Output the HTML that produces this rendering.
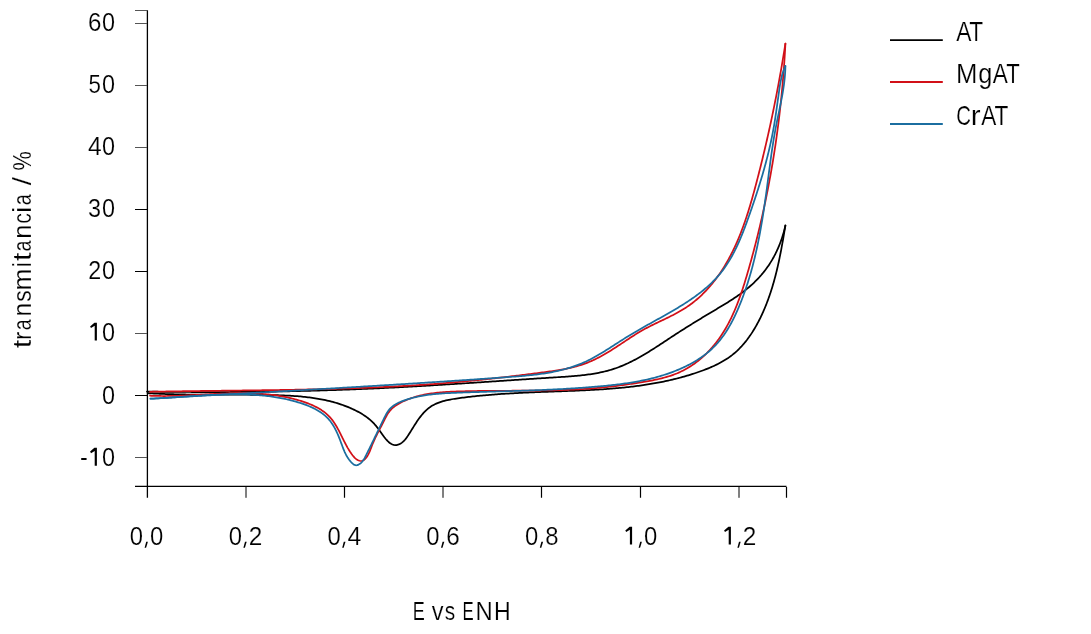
<!DOCTYPE html>
<html><head><meta charset="utf-8"><style>
html,body{margin:0;padding:0;background:#fff;}
body{width:1091px;height:634px;overflow:hidden;position:relative;}
svg{position:absolute;left:0;top:0;will-change:transform;}
text{font-family:"Liberation Sans",sans-serif;font-size:26px;fill:#000;stroke:#fff;stroke-width:0.18px;}
</style></head><body>
<svg width="1091" height="634" viewBox="0 0 1091 634">
<g fill="none" stroke-linejoin="round" stroke-linecap="round">
<path d="M147.4,10.2V497.8 M135,486.4H786.5" stroke="#000" stroke-width="1.3" stroke-linecap="butt"/>
<path d="M135,209.5H147 M135,271.5H147 M135,395.5H147 M344.5,487V497.8 M541.5,487V497.8 M640.5,487V497.8 M786.5,487V497.8" stroke="#000" stroke-width="1.2" stroke-linecap="butt"/>
<path d="M135,10.5H147 M135,23.5H147 M135,85.5H147 M135,147.5H147 M135,333.5H147 M135,457.5H147" stroke="#555" stroke-width="1.1" stroke-linecap="butt"/>
<path d="M246.0,487V497.8 M443.0,487V497.8 M739.0,487V497.8" stroke="#000" stroke-width="1" stroke-linecap="butt"/>
</g>
<g fill="none" stroke-width="1.75" stroke-linejoin="round" stroke-linecap="round">
<path d="M147.00,391.60 L148.49,391.62 L149.99,391.64 L151.48,391.66 L152.98,391.68 L154.47,391.70 L155.97,391.71 L157.46,391.73 L158.96,391.75 L160.46,391.77 L161.95,391.78 L163.45,391.80 L164.94,391.81 L166.44,391.83 L167.93,391.84 L169.43,391.86 L170.93,391.87 L172.42,391.88 L173.92,391.90 L175.42,391.91 L176.91,391.92 L178.41,391.93 L179.91,391.94 L181.40,391.95 L182.90,391.96 L184.40,391.97 L185.89,391.98 L187.39,391.99 L188.89,391.99 L190.38,392.00 L191.88,392.01 L193.38,392.01 L194.88,392.02 L196.37,392.02 L197.87,392.03 L199.37,392.03 L200.87,392.04 L202.36,392.04 L203.86,392.04 L205.36,392.04 L206.86,392.04 L208.36,392.04 L209.85,392.05 L211.35,392.04 L212.85,392.04 L214.35,392.04 L215.85,392.04 L217.35,392.04 L218.84,392.04 L220.34,392.03 L221.84,392.03 L223.34,392.02 L224.84,392.02 L226.34,392.01 L227.83,392.01 L229.33,392.00 L230.83,391.99 L232.33,391.98 L233.83,391.98 L235.33,391.97 L236.83,391.96 L238.33,391.95 L239.82,391.94 L241.32,391.93 L242.82,391.91 L244.32,391.90 L245.82,391.89 L247.32,391.87 L248.82,391.86 L250.32,391.85 L251.81,391.83 L253.31,391.81 L254.81,391.80 L256.31,391.78 L257.81,391.76 L259.31,391.75 L260.81,391.73 L262.31,391.71 L263.81,391.69 L265.30,391.67 L266.80,391.65 L268.30,391.62 L269.80,391.60 L271.30,391.58 L272.80,391.56 L274.30,391.53 L275.80,391.51 L277.30,391.48 L278.79,391.46 L280.29,391.43 L281.79,391.40 L283.29,391.38 L284.79,391.35 L286.29,391.32 L287.79,391.29 L289.28,391.26 L290.78,391.23 L292.28,391.20 L293.78,391.16 L295.28,391.13 L296.78,391.10 L298.27,391.06 L299.77,391.03 L301.27,391.00 L302.77,390.96 L304.27,390.92 L305.77,390.89 L307.26,390.85 L308.76,390.81 L310.26,390.77 L311.76,390.73 L313.25,390.69 L314.75,390.65 L316.25,390.61 L317.75,390.57 L319.25,390.52 L320.74,390.48 L322.24,390.44 L323.74,390.39 L325.23,390.35 L326.73,390.30 L328.23,390.25 L329.73,390.21 L331.22,390.16 L332.72,390.11 L334.22,390.06 L335.71,390.01 L337.21,389.96 L338.71,389.91 L340.20,389.86 L341.70,389.80 L343.20,389.75 L344.69,389.70 L346.19,389.64 L347.68,389.59 L349.18,389.53 L350.68,389.47 L352.17,389.42 L353.67,389.36 L355.16,389.30 L356.66,389.24 L358.15,389.18 L359.65,389.12 L361.14,389.06 L362.64,389.00 L364.13,388.93 L365.63,388.87 L367.12,388.80 L368.62,388.74 L370.11,388.67 L371.60,388.61 L373.10,388.54 L374.59,388.47 L376.09,388.40 L377.58,388.33 L379.07,388.26 L380.57,388.19 L382.06,388.12 L383.55,388.05 L385.05,387.98 L386.54,387.90 L388.03,387.83 L389.53,387.75 L391.02,387.68 L392.51,387.60 L394.00,387.53 L395.49,387.45 L396.99,387.37 L398.48,387.29 L399.97,387.21 L401.46,387.13 L402.96,387.05 L404.45,386.97 L405.94,386.89 L407.43,386.81 L408.92,386.72 L410.41,386.64 L411.91,386.56 L413.40,386.47 L414.89,386.39 L416.38,386.30 L417.87,386.22 L419.36,386.13 L420.85,386.04 L422.35,385.96 L423.84,385.87 L425.33,385.78 L426.82,385.69 L428.31,385.60 L429.80,385.51 L431.29,385.42 L432.79,385.33 L434.28,385.24 L435.77,385.15 L437.26,385.06 L438.75,384.97 L440.24,384.87 L441.73,384.78 L443.23,384.69 L444.72,384.59 L446.21,384.50 L447.70,384.41 L449.19,384.31 L450.69,384.22 L452.18,384.12 L453.67,384.03 L455.16,383.93 L456.65,383.84 L458.15,383.74 L459.64,383.64 L461.13,383.55 L462.62,383.45 L464.12,383.35 L465.61,383.25 L467.10,383.16 L468.60,383.06 L470.09,382.96 L471.58,382.86 L473.08,382.77 L474.57,382.67 L476.06,382.57 L477.56,382.47 L479.05,382.37 L480.54,382.27 L482.04,382.17 L483.53,382.07 L485.03,381.97 L486.52,381.87 L488.02,381.77 L489.51,381.67 L491.01,381.57 L492.50,381.47 L494.00,381.37 L495.50,381.27 L496.99,381.17 L498.49,381.07 L499.99,380.97 L501.48,380.87 L502.98,380.77 L504.48,380.67 L505.97,380.57 L507.47,380.47 L508.97,380.37 L510.47,380.27 L511.97,380.18 L513.47,380.08 L514.96,379.98 L516.46,379.88 L517.96,379.78 L519.46,379.68 L520.96,379.58 L522.46,379.48 L523.96,379.38 L525.46,379.28 L526.97,379.18 L528.47,379.08 L529.97,378.98 L531.47,378.89 L532.97,378.79 L534.48,378.69 L535.98,378.59 L537.48,378.49 L538.99,378.40 L540.49,378.30 L541.99,378.20 L543.50,378.11 L545.00,378.01 L546.51,377.91 L548.02,377.82 L549.52,377.72 L551.03,377.63 L552.53,377.53 L554.04,377.44 L555.55,377.34 L557.06,377.25 L558.56,377.15 L560.07,377.06 L561.58,376.96 L563.09,376.86 L564.60,376.76 L566.10,376.66 L567.61,376.55 L569.11,376.44 L570.62,376.33 L572.12,376.21 L573.62,376.08 L575.12,375.96 L576.62,375.82 L578.11,375.68 L579.60,375.53 L581.10,375.38 L582.58,375.21 L584.07,375.04 L585.55,374.86 L587.03,374.67 L588.51,374.47 L589.99,374.26 L591.46,374.04 L592.93,373.81 L594.39,373.57 L595.85,373.31 L597.30,373.05 L598.76,372.77 L600.20,372.47 L601.65,372.16 L603.09,371.84 L604.52,371.51 L605.95,371.15 L607.37,370.79 L608.79,370.40 L610.20,370.00 L611.61,369.58 L613.01,369.15 L614.41,368.69 L615.79,368.22 L617.18,367.73 L618.55,367.22 L619.93,366.69 L621.29,366.15 L622.65,365.59 L624.01,365.01 L625.36,364.42 L626.70,363.81 L628.04,363.19 L629.38,362.56 L630.71,361.91 L632.04,361.25 L633.36,360.57 L634.68,359.88 L635.99,359.19 L637.30,358.48 L638.61,357.76 L639.91,357.02 L641.21,356.28 L642.51,355.53 L643.80,354.77 L645.09,354.01 L646.38,353.23 L647.67,352.45 L648.95,351.66 L650.23,350.86 L651.51,350.06 L652.78,349.25 L654.06,348.44 L655.33,347.62 L656.60,346.80 L657.87,345.98 L659.14,345.15 L660.41,344.32 L661.68,343.49 L662.94,342.65 L664.21,341.82 L665.47,340.98 L666.74,340.15 L668.00,339.31 L669.26,338.48 L670.53,337.64 L671.79,336.81 L673.06,335.98 L674.32,335.15 L675.59,334.33 L676.85,333.51 L678.12,332.69 L679.39,331.88 L680.66,331.06 L681.93,330.26 L683.20,329.45 L684.47,328.65 L685.74,327.85 L687.01,327.05 L688.29,326.25 L689.56,325.46 L690.83,324.67 L692.11,323.88 L693.39,323.09 L694.66,322.30 L695.94,321.52 L697.22,320.74 L698.50,319.96 L699.78,319.18 L701.06,318.40 L702.34,317.62 L703.62,316.85 L704.90,316.07 L706.18,315.30 L707.47,314.53 L708.75,313.76 L710.04,312.99 L711.32,312.22 L712.61,311.45 L713.90,310.68 L715.19,309.91 L716.47,309.14 L717.76,308.37 L719.05,307.60 L720.34,306.83 L721.62,306.05 L722.91,305.28 L724.19,304.50 L725.47,303.72 L726.75,302.93 L728.02,302.14 L729.29,301.34 L730.55,300.54 L731.81,299.73 L733.06,298.92 L734.31,298.09 L735.55,297.26 L736.79,296.43 L738.01,295.58 L739.23,294.72 L740.44,293.85 L741.64,292.98 L742.83,292.09 L744.01,291.19 L745.18,290.28 L746.34,289.35 L747.49,288.42 L748.63,287.47 L749.75,286.50 L750.86,285.53 L751.96,284.54 L753.05,283.54 L754.13,282.52 L755.19,281.49 L756.23,280.45 L757.27,279.40 L758.29,278.33 L759.29,277.24 L760.28,276.15 L761.26,275.04 L762.21,273.91 L763.16,272.77 L764.08,271.62 L764.99,270.45 L765.89,269.27 L766.77,268.07 L767.63,266.86 L768.47,265.64 L769.30,264.40 L770.10,263.15 L770.90,261.88 L771.67,260.61 L772.43,259.32 L773.17,258.02 L773.90,256.71 L774.60,255.38 L775.29,254.05 L775.96,252.71 L776.62,251.35 L777.26,249.98 L777.88,248.61 L778.48,247.22 L779.06,245.83 L779.63,244.43 L780.18,243.01 L780.71,241.59 L781.23,240.16 L781.73,238.73 L782.21,237.28 L782.67,235.83 L783.11,234.37 L783.54,232.91 L783.94,231.44 L784.33,229.96 L784.71,228.48 L785.06,226.99 L785.40,225.50" stroke="#000"/>
<path d="M785.40,225.50 L785.16,226.98 L784.92,228.46 L784.67,229.93 L784.42,231.41 L784.17,232.89 L783.92,234.36 L783.67,235.84 L783.42,237.31 L783.17,238.78 L782.91,240.26 L782.65,241.73 L782.39,243.20 L782.12,244.67 L781.85,246.14 L781.58,247.61 L781.31,249.07 L781.03,250.54 L780.75,252.00 L780.46,253.47 L780.17,254.93 L779.88,256.39 L779.58,257.85 L779.28,259.31 L778.97,260.77 L778.66,262.22 L778.34,263.68 L778.02,265.13 L777.69,266.58 L777.35,268.03 L777.01,269.48 L776.67,270.93 L776.31,272.37 L775.95,273.81 L775.59,275.26 L775.21,276.70 L774.83,278.14 L774.44,279.57 L774.05,281.01 L773.65,282.44 L773.23,283.87 L772.81,285.30 L772.39,286.73 L771.95,288.15 L771.51,289.58 L771.05,291.00 L770.59,292.42 L770.12,293.83 L769.64,295.25 L769.15,296.66 L768.65,298.07 L768.14,299.48 L767.62,300.88 L767.08,302.29 L766.54,303.69 L765.99,305.09 L765.43,306.48 L764.85,307.88 L764.27,309.27 L763.67,310.66 L763.06,312.04 L762.44,313.42 L761.81,314.80 L761.16,316.17 L760.51,317.54 L759.84,318.91 L759.15,320.26 L758.46,321.61 L757.75,322.95 L757.02,324.29 L756.29,325.62 L755.54,326.93 L754.77,328.24 L754.00,329.54 L753.20,330.83 L752.40,332.10 L751.57,333.37 L750.74,334.62 L749.88,335.86 L749.02,337.09 L748.13,338.30 L747.24,339.50 L746.32,340.68 L745.39,341.85 L744.44,343.00 L743.48,344.13 L742.50,345.25 L741.51,346.35 L740.49,347.43 L739.46,348.49 L738.41,349.53 L737.35,350.56 L736.26,351.56 L735.16,352.54 L734.04,353.50 L732.90,354.44 L731.75,355.35 L730.57,356.24 L729.38,357.11 L728.17,357.96 L726.94,358.78 L725.69,359.58 L724.43,360.36 L723.15,361.12 L721.86,361.86 L720.56,362.58 L719.24,363.28 L717.91,363.97 L716.57,364.64 L715.22,365.29 L713.86,365.92 L712.49,366.54 L711.12,367.15 L709.73,367.74 L708.34,368.32 L706.94,368.88 L705.53,369.43 L704.12,369.98 L702.71,370.51 L701.29,371.02 L699.87,371.53 L698.45,372.03 L697.03,372.53 L695.60,373.01 L694.17,373.48 L692.74,373.94 L691.31,374.40 L689.88,374.85 L688.44,375.29 L687.00,375.71 L685.57,376.14 L684.12,376.55 L682.68,376.95 L681.24,377.35 L679.79,377.74 L678.34,378.12 L676.89,378.49 L675.44,378.86 L673.99,379.22 L672.54,379.57 L671.08,379.91 L669.62,380.25 L668.17,380.57 L666.71,380.89 L665.24,381.21 L663.78,381.52 L662.32,381.82 L660.85,382.11 L659.38,382.40 L657.92,382.68 L656.45,382.95 L654.98,383.22 L653.50,383.48 L652.03,383.73 L650.56,383.98 L649.08,384.22 L647.60,384.46 L646.13,384.69 L644.65,384.91 L643.17,385.13 L641.69,385.35 L640.21,385.56 L638.72,385.76 L637.24,385.96 L635.76,386.15 L634.27,386.34 L632.78,386.52 L631.30,386.70 L629.81,386.87 L628.32,387.04 L626.83,387.20 L625.34,387.36 L623.85,387.52 L622.36,387.67 L620.87,387.81 L619.38,387.95 L617.88,388.09 L616.39,388.23 L614.89,388.36 L613.40,388.48 L611.90,388.60 L610.41,388.72 L608.91,388.84 L607.42,388.95 L605.92,389.06 L604.42,389.17 L602.93,389.27 L601.43,389.37 L599.93,389.47 L598.43,389.56 L596.93,389.65 L595.43,389.74 L593.94,389.83 L592.44,389.91 L590.94,389.99 L589.44,390.07 L587.94,390.15 L586.44,390.22 L584.94,390.30 L583.44,390.37 L581.94,390.44 L580.45,390.50 L578.95,390.57 L577.45,390.64 L575.95,390.70 L574.45,390.76 L572.95,390.82 L571.46,390.88 L569.96,390.94 L568.46,391.00 L566.97,391.06 L565.47,391.11 L563.97,391.17 L562.48,391.22 L560.98,391.28 L559.49,391.33 L557.99,391.39 L556.50,391.44 L555.01,391.49 L553.51,391.55 L552.02,391.60 L550.53,391.65 L549.04,391.71 L547.54,391.76 L546.05,391.82 L544.56,391.87 L543.07,391.93 L541.58,391.98 L540.09,392.04 L538.60,392.10 L537.11,392.16 L535.62,392.22 L534.13,392.28 L532.64,392.34 L531.15,392.40 L529.66,392.46 L528.18,392.53 L526.69,392.59 L525.20,392.66 L523.71,392.73 L522.22,392.80 L520.73,392.87 L519.24,392.95 L517.75,393.02 L516.26,393.10 L514.77,393.18 L513.28,393.26 L511.79,393.34 L510.30,393.43 L508.81,393.51 L507.32,393.60 L505.83,393.70 L504.34,393.79 L502.84,393.89 L501.35,393.99 L499.86,394.09 L498.37,394.19 L496.87,394.30 L495.38,394.41 L493.89,394.53 L492.39,394.64 L490.90,394.76 L489.40,394.88 L487.90,395.01 L486.41,395.14 L484.91,395.27 L483.41,395.41 L481.91,395.55 L480.41,395.69 L478.91,395.84 L477.41,395.99 L475.91,396.15 L474.41,396.30 L472.91,396.47 L471.40,396.63 L469.90,396.81 L468.40,396.98 L466.89,397.16 L465.38,397.34 L463.87,397.53 L462.37,397.73 L460.86,397.92 L459.35,398.12 L457.84,398.33 L456.33,398.55 L454.82,398.77 L453.32,399.01 L451.82,399.26 L450.33,399.53 L448.85,399.82 L447.38,400.13 L445.93,400.47 L444.48,400.83 L443.06,401.21 L441.65,401.63 L440.26,402.08 L438.89,402.57 L437.54,403.09 L436.21,403.66 L434.91,404.26 L433.64,404.91 L432.39,405.61 L431.18,406.35 L429.99,407.15 L428.84,408.00 L427.72,408.90 L426.63,409.84 L425.57,410.84 L424.54,411.87 L423.53,412.95 L422.55,414.06 L421.59,415.21 L420.65,416.39 L419.72,417.60 L418.82,418.83 L417.93,420.08 L417.05,421.36 L416.19,422.65 L415.33,423.96 L414.49,425.27 L413.65,426.60 L412.82,427.93 L411.99,429.26 L411.17,430.59 L410.34,431.92 L409.52,433.24 L408.69,434.55 L407.85,435.85 L407.00,437.13 L406.11,438.36 L405.18,439.54 L404.19,440.65 L403.12,441.68 L401.97,442.62 L400.73,443.46 L399.39,444.16 L398.00,444.70 L396.57,445.03 L395.15,445.13 L393.75,444.95 L392.39,444.50 L391.08,443.82 L389.82,442.96 L388.62,441.96 L387.47,440.86 L386.39,439.70 L385.37,438.49 L384.39,437.26 L383.45,436.00 L382.54,434.73 L381.65,433.46 L380.77,432.19 L379.89,430.94 L379.01,429.71 L378.11,428.51 L377.20,427.34 L376.28,426.19 L375.33,425.07 L374.35,423.97 L373.35,422.91 L372.31,421.88 L371.24,420.87 L370.15,419.90 L369.02,418.95 L367.86,418.04 L366.68,417.15 L365.48,416.28 L364.25,415.44 L363.00,414.63 L361.74,413.85 L360.45,413.08 L359.15,412.34 L357.83,411.62 L356.50,410.93 L355.16,410.25 L353.81,409.60 L352.45,408.97 L351.08,408.35 L349.71,407.76 L348.33,407.18 L346.95,406.62 L345.56,406.08 L344.17,405.56 L342.77,405.05 L341.36,404.56 L339.95,404.09 L338.54,403.63 L337.12,403.19 L335.69,402.76 L334.26,402.35 L332.83,401.96 L331.39,401.58 L329.95,401.21 L328.50,400.86 L327.06,400.53 L325.60,400.20 L324.15,399.89 L322.69,399.60 L321.22,399.31 L319.75,399.04 L318.28,398.78 L316.81,398.53 L315.33,398.29 L313.86,398.07 L312.37,397.85 L310.89,397.65 L309.40,397.46 L307.91,397.27 L306.42,397.10 L304.93,396.93 L303.44,396.78 L301.94,396.63 L300.44,396.49 L298.94,396.36 L297.44,396.24 L295.93,396.12 L294.43,396.01 L292.93,395.91 L291.42,395.82 L289.91,395.73 L288.40,395.65 L286.90,395.57 L285.39,395.50 L283.88,395.44 L282.37,395.37 L280.86,395.32 L279.35,395.27 L277.84,395.22 L276.33,395.17 L274.82,395.13 L273.31,395.09 L271.80,395.06 L270.30,395.03 L268.79,394.99 L267.29,394.97 L265.78,394.94 L264.28,394.91 L262.77,394.89 L261.27,394.87 L259.77,394.85 L258.27,394.83 L256.77,394.81 L255.27,394.80 L253.77,394.78 L252.28,394.77 L250.78,394.76 L249.28,394.75 L247.79,394.74 L246.29,394.73 L244.79,394.72 L243.30,394.71 L241.81,394.71 L240.31,394.70 L238.82,394.70 L237.33,394.70 L235.84,394.69 L234.34,394.69 L232.85,394.69 L231.36,394.69 L229.87,394.69 L228.38,394.69 L226.89,394.69 L225.40,394.68 L223.91,394.68 L222.42,394.68 L220.93,394.68 L219.44,394.68 L217.95,394.68 L216.46,394.68 L214.97,394.68 L213.48,394.68 L212.00,394.67 L210.51,394.67 L209.02,394.67 L207.53,394.66 L206.04,394.66 L204.55,394.65 L203.06,394.65 L201.57,394.64 L200.08,394.63 L198.59,394.62 L197.11,394.61 L195.62,394.60 L194.13,394.59 L192.63,394.57 L191.14,394.56 L189.65,394.54 L188.16,394.52 L186.67,394.50 L185.18,394.48 L183.69,394.45 L182.19,394.43 L180.70,394.40 L179.21,394.37 L177.71,394.34 L176.22,394.31 L174.72,394.27 L173.23,394.23 L171.73,394.19 L170.24,394.15 L168.74,394.11 L167.24,394.06 L165.74,394.01 L164.24,393.96 L162.74,393.91 L161.24,393.85 L159.74,393.79 L158.24,393.73 L156.74,393.66 L155.23,393.59 L153.73,393.52 L152.22,393.44 L150.71,393.37 L149.21,393.29 L147.70,393.20" stroke="#000"/>
<path d="M150.00,391.80 L151.50,391.77 L152.99,391.74 L154.49,391.71 L155.98,391.68 L157.48,391.66 L158.97,391.63 L160.47,391.60 L161.96,391.57 L163.46,391.55 L164.96,391.52 L166.45,391.49 L167.95,391.47 L169.45,391.44 L170.94,391.42 L172.44,391.39 L173.94,391.37 L175.44,391.35 L176.93,391.32 L178.43,391.30 L179.93,391.28 L181.43,391.26 L182.92,391.23 L184.42,391.21 L185.92,391.19 L187.42,391.17 L188.92,391.15 L190.41,391.13 L191.91,391.11 L193.41,391.09 L194.91,391.07 L196.41,391.05 L197.91,391.03 L199.41,391.01 L200.91,390.99 L202.41,390.97 L203.91,390.95 L205.40,390.93 L206.90,390.91 L208.40,390.89 L209.90,390.88 L211.40,390.86 L212.90,390.84 L214.40,390.82 L215.90,390.80 L217.40,390.79 L218.90,390.77 L220.40,390.75 L221.90,390.73 L223.41,390.72 L224.91,390.70 L226.41,390.68 L227.91,390.66 L229.41,390.65 L230.91,390.63 L232.41,390.61 L233.91,390.59 L235.41,390.57 L236.91,390.56 L238.41,390.54 L239.91,390.52 L241.42,390.50 L242.92,390.48 L244.42,390.47 L245.92,390.45 L247.42,390.43 L248.92,390.41 L250.42,390.39 L251.93,390.37 L253.43,390.35 L254.93,390.34 L256.43,390.32 L257.93,390.30 L259.43,390.28 L260.93,390.26 L262.44,390.24 L263.94,390.22 L265.44,390.20 L266.94,390.17 L268.44,390.15 L269.95,390.13 L271.45,390.11 L272.95,390.09 L274.45,390.07 L275.95,390.04 L277.45,390.02 L278.96,390.00 L280.46,389.97 L281.96,389.95 L283.46,389.93 L284.96,389.90 L286.47,389.88 L287.97,389.85 L289.47,389.83 L290.97,389.80 L292.47,389.77 L293.97,389.75 L295.48,389.72 L296.98,389.69 L298.48,389.66 L299.98,389.63 L301.48,389.60 L302.99,389.57 L304.49,389.54 L305.99,389.51 L307.49,389.48 L308.99,389.45 L310.49,389.42 L311.99,389.38 L313.50,389.35 L315.00,389.32 L316.50,389.28 L318.00,389.25 L319.50,389.21 L321.00,389.17 L322.50,389.14 L324.00,389.10 L325.51,389.06 L327.01,389.02 L328.51,388.98 L330.01,388.94 L331.51,388.90 L333.01,388.86 L334.51,388.82 L336.01,388.78 L337.51,388.73 L339.01,388.69 L340.51,388.64 L342.01,388.60 L343.51,388.55 L345.01,388.50 L346.51,388.46 L348.02,388.41 L349.52,388.36 L351.01,388.31 L352.51,388.26 L354.01,388.20 L355.51,388.15 L357.01,388.10 L358.51,388.04 L360.01,387.99 L361.51,387.93 L363.01,387.87 L364.51,387.82 L366.01,387.76 L367.51,387.70 L369.01,387.64 L370.51,387.57 L372.00,387.51 L373.50,387.45 L375.00,387.38 L376.50,387.32 L378.00,387.25 L379.50,387.18 L380.99,387.12 L382.49,387.05 L383.99,386.98 L385.49,386.90 L386.98,386.83 L388.48,386.76 L389.98,386.68 L391.48,386.61 L392.97,386.53 L394.47,386.45 L395.97,386.37 L397.46,386.29 L398.96,386.21 L400.46,386.13 L401.95,386.05 L403.45,385.96 L404.94,385.88 L406.44,385.79 L407.93,385.70 L409.43,385.61 L410.92,385.52 L412.42,385.43 L413.91,385.34 L415.41,385.25 L416.90,385.15 L418.40,385.05 L419.89,384.96 L421.39,384.86 L422.88,384.76 L424.37,384.66 L425.87,384.55 L427.36,384.45 L428.85,384.34 L430.35,384.24 L431.84,384.13 L433.33,384.02 L434.82,383.91 L436.32,383.80 L437.81,383.68 L439.30,383.57 L440.79,383.45 L442.28,383.34 L443.78,383.22 L445.27,383.10 L446.76,382.97 L448.25,382.85 L449.74,382.73 L451.23,382.60 L452.72,382.47 L454.21,382.34 L455.70,382.21 L457.19,382.08 L458.68,381.95 L460.17,381.81 L461.66,381.68 L463.14,381.54 L464.63,381.40 L466.12,381.26 L467.61,381.12 L469.10,380.97 L470.58,380.83 L472.07,380.68 L473.56,380.53 L475.05,380.38 L476.54,380.23 L478.02,380.08 L479.51,379.93 L481.00,379.77 L482.49,379.61 L483.97,379.46 L485.46,379.30 L486.95,379.14 L488.44,378.98 L489.93,378.81 L491.41,378.65 L492.90,378.49 L494.39,378.32 L495.88,378.15 L497.37,377.98 L498.86,377.81 L500.35,377.64 L501.84,377.47 L503.33,377.30 L504.82,377.12 L506.31,376.95 L507.80,376.77 L509.29,376.60 L510.78,376.42 L512.27,376.24 L513.77,376.06 L515.26,375.88 L516.75,375.70 L518.24,375.51 L519.74,375.33 L521.23,375.14 L522.73,374.96 L524.22,374.77 L525.72,374.58 L527.22,374.39 L528.71,374.21 L530.21,374.01 L531.71,373.82 L533.21,373.63 L534.71,373.44 L536.21,373.25 L537.71,373.05 L539.21,372.86 L540.71,372.66 L542.22,372.47 L543.72,372.27 L545.22,372.07 L546.73,371.87 L548.23,371.67 L549.74,371.46 L551.24,371.25 L552.74,371.03 L554.24,370.81 L555.74,370.59 L557.24,370.35 L558.73,370.11 L560.22,369.86 L561.71,369.60 L563.20,369.33 L564.68,369.06 L566.16,368.77 L567.63,368.46 L569.10,368.15 L570.56,367.82 L572.02,367.48 L573.48,367.12 L574.92,366.75 L576.37,366.36 L577.80,365.96 L579.23,365.53 L580.65,365.09 L582.06,364.63 L583.47,364.15 L584.87,363.65 L586.25,363.13 L587.64,362.59 L589.01,362.03 L590.37,361.45 L591.73,360.85 L593.08,360.23 L594.43,359.60 L595.76,358.95 L597.09,358.28 L598.42,357.60 L599.74,356.91 L601.05,356.20 L602.35,355.48 L603.65,354.75 L604.95,354.00 L606.24,353.25 L607.53,352.48 L608.81,351.71 L610.09,350.93 L611.36,350.14 L612.63,349.34 L613.90,348.54 L615.16,347.73 L616.42,346.92 L617.68,346.10 L618.94,345.28 L620.19,344.45 L621.44,343.63 L622.69,342.80 L623.94,341.97 L625.18,341.14 L626.43,340.32 L627.67,339.49 L628.92,338.67 L630.17,337.85 L631.42,337.04 L632.67,336.22 L633.92,335.42 L635.18,334.62 L636.45,333.83 L637.72,333.05 L638.99,332.28 L640.28,331.52 L641.57,330.77 L642.88,330.03 L644.19,329.30 L645.51,328.58 L646.85,327.87 L648.18,327.18 L649.53,326.49 L650.88,325.80 L652.24,325.13 L653.60,324.46 L654.97,323.79 L656.33,323.13 L657.71,322.47 L659.08,321.82 L660.45,321.16 L661.83,320.50 L663.20,319.85 L664.57,319.19 L665.94,318.53 L667.31,317.87 L668.68,317.20 L670.04,316.52 L671.39,315.84 L672.74,315.16 L674.09,314.46 L675.42,313.76 L676.75,313.05 L678.07,312.32 L679.38,311.59 L680.68,310.84 L681.97,310.08 L683.25,309.30 L684.52,308.51 L685.78,307.71 L687.02,306.89 L688.24,306.05 L689.46,305.19 L690.66,304.32 L691.85,303.43 L693.02,302.53 L694.18,301.61 L695.33,300.68 L696.47,299.73 L697.59,298.76 L698.70,297.79 L699.80,296.79 L700.88,295.79 L701.95,294.77 L703.01,293.74 L704.06,292.69 L705.09,291.63 L706.12,290.56 L707.13,289.48 L708.13,288.38 L709.11,287.28 L710.09,286.16 L711.05,285.03 L712.00,283.89 L712.94,282.73 L713.86,281.57 L714.78,280.40 L715.68,279.21 L716.58,278.02 L717.46,276.81 L718.33,275.60 L719.18,274.38 L720.03,273.15 L720.87,271.91 L721.69,270.66 L722.51,269.40 L723.31,268.14 L724.10,266.87 L724.88,265.59 L725.66,264.30 L726.42,263.01 L727.17,261.71 L727.91,260.40 L728.64,259.09 L729.35,257.77 L730.06,256.44 L730.76,255.11 L731.45,253.77 L732.13,252.43 L732.80,251.09 L733.46,249.74 L734.10,248.38 L734.74,247.02 L735.37,245.66 L735.99,244.29 L736.61,242.92 L737.21,241.55 L737.80,240.17 L738.39,238.79 L738.97,237.40 L739.53,236.01 L740.10,234.62 L740.65,233.22 L741.19,231.82 L741.73,230.42 L742.26,229.01 L742.78,227.60 L743.30,226.19 L743.81,224.78 L744.31,223.36 L744.81,221.94 L745.30,220.52 L745.78,219.09 L746.26,217.67 L746.73,216.24 L747.20,214.81 L747.66,213.37 L748.11,211.94 L748.56,210.50 L749.01,209.06 L749.45,207.62 L749.88,206.18 L750.31,204.73 L750.74,203.29 L751.16,201.84 L751.58,200.39 L752.00,198.95 L752.41,197.50 L752.81,196.04 L753.22,194.59 L753.62,193.14 L754.02,191.69 L754.41,190.23 L754.81,188.78 L755.20,187.32 L755.58,185.87 L755.97,184.41 L756.35,182.96 L756.74,181.50 L757.12,180.05 L757.49,178.59 L757.87,177.14 L758.25,175.68 L758.62,174.23 L758.99,172.77 L759.36,171.32 L759.73,169.86 L760.10,168.40 L760.46,166.95 L760.83,165.49 L761.19,164.04 L761.55,162.58 L761.91,161.12 L762.26,159.67 L762.62,158.21 L762.97,156.75 L763.32,155.30 L763.67,153.84 L764.02,152.38 L764.37,150.93 L764.71,149.47 L765.06,148.01 L765.40,146.55 L765.74,145.10 L766.08,143.64 L766.41,142.18 L766.75,140.72 L767.08,139.26 L767.41,137.80 L767.74,136.35 L768.07,134.89 L768.40,133.43 L768.72,131.97 L769.05,130.51 L769.37,129.05 L769.69,127.58 L770.01,126.12 L770.33,124.66 L770.64,123.20 L770.96,121.74 L771.27,120.28 L771.58,118.81 L771.89,117.35 L772.20,115.89 L772.50,114.42 L772.81,112.96 L773.11,111.50 L773.41,110.03 L773.71,108.57 L774.01,107.10 L774.31,105.63 L774.60,104.17 L774.90,102.70 L775.19,101.23 L775.48,99.77 L775.77,98.30 L776.06,96.83 L776.34,95.36 L776.63,93.89 L776.91,92.42 L777.19,90.95 L777.47,89.48 L777.75,88.01 L778.02,86.54 L778.30,85.06 L778.57,83.59 L778.84,82.12 L779.12,80.64 L779.38,79.17 L779.65,77.69 L779.92,76.22 L780.18,74.74 L780.45,73.26 L780.71,71.79 L780.97,70.31 L781.23,68.83 L781.48,67.35 L781.74,65.87 L781.99,64.39 L782.24,62.91 L782.50,61.43 L782.75,59.95 L782.99,58.46 L783.24,56.98 L783.49,55.50 L783.73,54.01 L783.97,52.53 L784.21,51.04 L784.45,49.55 L784.69,48.07 L784.93,46.58 L785.16,45.09 L785.40,43.60" stroke="#d21018"/>
<path d="M785.40,43.60 L785.33,45.10 L785.25,46.61 L785.17,48.11 L785.08,49.62 L785.00,51.12 L784.91,52.63 L784.82,54.13 L784.73,55.63 L784.63,57.13 L784.54,58.64 L784.44,60.14 L784.34,61.64 L784.24,63.14 L784.13,64.64 L784.03,66.14 L783.92,67.64 L783.81,69.13 L783.70,70.63 L783.58,72.13 L783.47,73.63 L783.35,75.12 L783.23,76.62 L783.11,78.12 L782.98,79.61 L782.85,81.11 L782.73,82.60 L782.60,84.10 L782.46,85.59 L782.33,87.09 L782.19,88.58 L782.05,90.07 L781.91,91.56 L781.77,93.06 L781.62,94.55 L781.48,96.04 L781.33,97.53 L781.17,99.02 L781.02,100.51 L780.87,102.00 L780.71,103.49 L780.55,104.98 L780.39,106.47 L780.22,107.95 L780.05,109.44 L779.89,110.93 L779.72,112.41 L779.54,113.90 L779.37,115.39 L779.19,116.87 L779.01,118.36 L778.83,119.84 L778.65,121.33 L778.46,122.81 L778.27,124.30 L778.08,125.78 L777.89,127.26 L777.70,128.75 L777.50,130.23 L777.30,131.71 L777.10,133.19 L776.90,134.67 L776.69,136.15 L776.49,137.63 L776.28,139.11 L776.07,140.59 L775.85,142.07 L775.64,143.55 L775.42,145.03 L775.20,146.51 L774.97,147.99 L774.75,149.47 L774.52,150.94 L774.29,152.42 L774.06,153.90 L773.83,155.37 L773.59,156.85 L773.35,158.33 L773.11,159.80 L772.87,161.28 L772.63,162.75 L772.38,164.23 L772.13,165.70 L771.88,167.17 L771.62,168.65 L771.37,170.12 L771.11,171.59 L770.85,173.07 L770.59,174.54 L770.32,176.01 L770.05,177.48 L769.78,178.95 L769.51,180.42 L769.24,181.89 L768.96,183.36 L768.68,184.83 L768.40,186.30 L768.12,187.77 L767.83,189.24 L767.54,190.71 L767.25,192.18 L766.96,193.65 L766.67,195.12 L766.37,196.58 L766.07,198.05 L765.77,199.52 L765.47,200.99 L765.16,202.45 L764.85,203.92 L764.54,205.38 L764.23,206.85 L763.91,208.32 L763.59,209.78 L763.27,211.25 L762.95,212.71 L762.63,214.17 L762.30,215.64 L761.97,217.10 L761.64,218.57 L761.30,220.03 L760.97,221.49 L760.63,222.95 L760.28,224.42 L759.94,225.88 L759.59,227.34 L759.25,228.80 L758.90,230.26 L758.54,231.73 L758.19,233.19 L757.83,234.65 L757.47,236.11 L757.11,237.57 L756.74,239.03 L756.37,240.49 L756.00,241.95 L755.63,243.41 L755.26,244.87 L754.88,246.32 L754.50,247.78 L754.12,249.24 L753.73,250.70 L753.35,252.16 L752.96,253.62 L752.56,255.07 L752.17,256.53 L751.77,257.99 L751.38,259.44 L750.97,260.90 L750.57,262.36 L750.16,263.81 L749.75,265.27 L749.34,266.72 L748.93,268.18 L748.51,269.64 L748.10,271.09 L747.67,272.55 L747.25,274.00 L746.82,275.45 L746.39,276.91 L745.96,278.36 L745.52,279.81 L745.08,281.26 L744.63,282.70 L744.18,284.15 L743.72,285.59 L743.26,287.03 L742.80,288.47 L742.32,289.91 L741.84,291.34 L741.36,292.77 L740.87,294.20 L740.37,295.62 L739.87,297.04 L739.35,298.45 L738.83,299.87 L738.31,301.27 L737.77,302.68 L737.23,304.08 L736.68,305.47 L736.12,306.86 L735.55,308.24 L734.97,309.62 L734.38,310.99 L733.78,312.36 L733.17,313.72 L732.56,315.08 L731.93,316.43 L731.29,317.77 L730.64,319.11 L729.97,320.43 L729.30,321.76 L728.62,323.07 L727.92,324.38 L727.21,325.68 L726.49,326.97 L725.75,328.25 L725.01,329.53 L724.24,330.80 L723.47,332.05 L722.68,333.30 L721.88,334.54 L721.06,335.78 L720.23,337.00 L719.38,338.21 L718.52,339.41 L717.65,340.61 L716.75,341.79 L715.85,342.96 L714.92,344.12 L713.98,345.27 L713.02,346.41 L712.05,347.54 L711.06,348.66 L710.05,349.76 L709.03,350.86 L707.99,351.94 L706.94,353.00 L705.87,354.05 L704.78,355.09 L703.68,356.11 L702.56,357.12 L701.43,358.11 L700.29,359.08 L699.13,360.04 L697.95,360.98 L696.76,361.90 L695.56,362.80 L694.35,363.68 L693.12,364.54 L691.87,365.39 L690.62,366.21 L689.35,367.01 L688.07,367.79 L686.77,368.55 L685.47,369.28 L684.15,369.99 L682.82,370.68 L681.48,371.34 L680.13,371.98 L678.76,372.60 L677.39,373.19 L676.00,373.75 L674.61,374.29 L673.20,374.82 L671.79,375.32 L670.36,375.80 L668.93,376.26 L667.50,376.70 L666.05,377.12 L664.60,377.53 L663.14,377.92 L661.67,378.30 L660.21,378.66 L658.73,379.00 L657.25,379.34 L655.77,379.66 L654.28,379.97 L652.79,380.27 L651.30,380.56 L649.81,380.84 L648.31,381.11 L646.81,381.37 L645.32,381.63 L643.82,381.88 L642.32,382.13 L640.82,382.37 L639.33,382.61 L637.83,382.85 L636.34,383.08 L634.84,383.31 L633.35,383.54 L631.86,383.76 L630.37,383.99 L628.89,384.20 L627.40,384.42 L625.91,384.63 L624.43,384.84 L622.94,385.04 L621.46,385.24 L619.97,385.44 L618.49,385.63 L617.00,385.82 L615.52,386.01 L614.04,386.19 L612.56,386.36 L611.07,386.54 L609.59,386.71 L608.11,386.87 L606.63,387.04 L605.14,387.19 L603.66,387.35 L602.18,387.50 L600.69,387.64 L599.21,387.78 L597.73,387.92 L596.24,388.05 L594.76,388.17 L593.27,388.30 L591.78,388.42 L590.30,388.53 L588.81,388.64 L587.32,388.75 L585.83,388.85 L584.35,388.95 L582.86,389.05 L581.37,389.14 L579.88,389.23 L578.39,389.31 L576.90,389.39 L575.41,389.47 L573.92,389.55 L572.42,389.62 L570.93,389.69 L569.44,389.75 L567.95,389.82 L566.45,389.88 L564.96,389.93 L563.47,389.99 L561.97,390.04 L560.48,390.09 L558.98,390.13 L557.49,390.18 L555.99,390.22 L554.50,390.26 L553.00,390.30 L551.50,390.33 L550.01,390.37 L548.51,390.40 L547.01,390.43 L545.51,390.45 L544.02,390.48 L542.52,390.50 L541.02,390.53 L539.52,390.55 L538.02,390.57 L536.52,390.59 L535.02,390.60 L533.52,390.62 L532.02,390.63 L530.52,390.64 L529.02,390.66 L527.52,390.67 L526.02,390.68 L524.52,390.69 L523.02,390.70 L521.51,390.71 L520.01,390.71 L518.51,390.72 L517.01,390.73 L515.50,390.73 L514.00,390.74 L512.50,390.74 L510.99,390.75 L509.49,390.76 L507.99,390.76 L506.48,390.77 L504.98,390.77 L503.48,390.78 L501.97,390.79 L500.47,390.79 L498.96,390.80 L497.46,390.81 L495.95,390.82 L494.45,390.83 L492.94,390.83 L491.44,390.85 L489.93,390.86 L488.43,390.87 L486.92,390.88 L485.42,390.90 L483.91,390.91 L482.40,390.93 L480.90,390.95 L479.39,390.97 L477.89,390.99 L476.38,391.01 L474.87,391.04 L473.37,391.06 L471.86,391.09 L470.35,391.12 L468.85,391.15 L467.34,391.19 L465.83,391.22 L464.33,391.26 L462.82,391.30 L461.31,391.35 L459.81,391.39 L458.30,391.44 L456.79,391.49 L455.29,391.54 L453.78,391.60 L452.28,391.67 L450.77,391.74 L449.27,391.81 L447.77,391.90 L446.27,391.99 L444.77,392.09 L443.27,392.20 L441.78,392.31 L440.29,392.44 L438.80,392.58 L437.31,392.73 L435.82,392.90 L434.34,393.07 L432.86,393.26 L431.39,393.47 L429.91,393.69 L428.45,393.92 L426.98,394.18 L425.52,394.44 L424.06,394.73 L422.61,395.03 L421.16,395.36 L419.72,395.70 L418.28,396.06 L416.85,396.45 L415.42,396.85 L414.00,397.28 L412.58,397.73 L411.17,398.20 L409.76,398.70 L408.36,399.22 L406.97,399.77 L405.59,400.35 L404.21,400.95 L402.83,401.57 L401.47,402.23 L400.13,402.93 L398.81,403.65 L397.51,404.42 L396.25,405.23 L395.02,406.09 L393.83,406.99 L392.70,407.95 L391.61,408.96 L390.58,410.03 L389.62,411.16 L388.72,412.36 L387.88,413.60 L387.09,414.90 L386.34,416.23 L385.62,417.59 L384.92,418.96 L384.24,420.33 L383.55,421.70 L382.86,423.06 L382.17,424.41 L381.48,425.75 L380.78,427.09 L380.09,428.42 L379.40,429.74 L378.72,431.07 L378.04,432.39 L377.37,433.72 L376.70,435.05 L376.05,436.38 L375.40,437.72 L374.77,439.06 L374.15,440.42 L373.55,441.78 L372.96,443.15 L372.39,444.54 L371.83,445.94 L371.30,447.35 L370.77,448.77 L370.22,450.18 L369.64,451.59 L369.02,452.98 L368.34,454.34 L367.58,455.66 L366.74,456.94 L365.78,458.17 L364.71,459.30 L363.53,460.23 L362.25,460.83 L360.88,461.00 L359.47,460.75 L358.09,460.21 L356.80,459.47 L355.62,458.58 L354.53,457.56 L353.51,456.45 L352.55,455.27 L351.64,454.04 L350.77,452.79 L349.92,451.52 L349.10,450.22 L348.31,448.91 L347.53,447.59 L346.78,446.24 L346.05,444.89 L345.33,443.53 L344.63,442.16 L343.93,440.79 L343.24,439.41 L342.56,438.04 L341.88,436.66 L341.20,435.29 L340.52,433.92 L339.84,432.57 L339.14,431.22 L338.44,429.88 L337.72,428.56 L336.99,427.25 L336.24,425.96 L335.48,424.70 L334.69,423.45 L333.87,422.23 L333.03,421.04 L332.16,419.87 L331.25,418.74 L330.31,417.64 L329.34,416.57 L328.32,415.54 L327.27,414.55 L326.18,413.60 L325.05,412.68 L323.89,411.79 L322.70,410.94 L321.48,410.11 L320.23,409.32 L318.95,408.56 L317.65,407.83 L316.33,407.13 L314.99,406.45 L313.62,405.80 L312.24,405.17 L310.85,404.57 L309.44,403.99 L308.02,403.43 L306.59,402.90 L305.15,402.38 L303.71,401.89 L302.26,401.41 L300.81,400.94 L299.35,400.50 L297.90,400.07 L296.44,399.65 L294.98,399.25 L293.52,398.87 L292.06,398.50 L290.60,398.15 L289.13,397.81 L287.66,397.49 L286.20,397.18 L284.73,396.88 L283.26,396.60 L281.78,396.33 L280.31,396.07 L278.84,395.83 L277.36,395.60 L275.88,395.38 L274.40,395.17 L272.92,394.97 L271.44,394.79 L269.96,394.62 L268.48,394.46 L266.99,394.31 L265.51,394.17 L264.02,394.04 L262.53,393.92 L261.04,393.81 L259.55,393.71 L258.06,393.62 L256.57,393.54 L255.08,393.47 L253.58,393.40 L252.09,393.35 L250.60,393.30 L249.10,393.26 L247.60,393.23 L246.11,393.21 L244.61,393.19 L243.11,393.18 L241.61,393.18 L240.11,393.18 L238.61,393.19 L237.11,393.20 L235.61,393.22 L234.10,393.25 L232.60,393.28 L231.10,393.32 L229.60,393.36 L228.09,393.40 L226.59,393.45 L225.08,393.51 L223.58,393.56 L222.07,393.62 L220.57,393.69 L219.06,393.75 L217.55,393.82 L216.05,393.89 L214.54,393.97 L213.04,394.04 L211.53,394.12 L210.02,394.20 L208.52,394.28 L207.01,394.36 L205.50,394.44 L204.00,394.52 L202.49,394.61 L200.98,394.69 L199.48,394.77 L197.97,394.85 L196.46,394.93 L194.96,395.01 L193.45,395.09 L191.95,395.17 L190.44,395.24 L188.94,395.32 L187.43,395.39 L185.93,395.45 L184.42,395.52 L182.92,395.58 L181.42,395.64 L179.91,395.70 L178.41,395.75 L176.91,395.80 L175.41,395.84 L173.91,395.88 L172.41,395.92 L170.91,395.94 L169.41,395.97 L167.91,395.99 L166.42,396.00 L164.92,396.01 L163.42,396.01 L161.93,396.00 L160.43,395.99 L158.94,395.97 L157.45,395.94 L155.96,395.91 L154.47,395.87 L152.98,395.82 L151.49,395.76 L150.00,395.70" stroke="#d21018"/>
<path d="M150.50,398.70 L152.00,398.61 L153.49,398.53 L154.99,398.44 L156.49,398.36 L157.98,398.27 L159.48,398.19 L160.98,398.10 L162.47,398.02 L163.97,397.93 L165.47,397.85 L166.96,397.76 L168.46,397.68 L169.96,397.59 L171.45,397.51 L172.95,397.42 L174.45,397.34 L175.94,397.25 L177.44,397.17 L178.93,397.09 L180.43,397.00 L181.93,396.92 L183.42,396.83 L184.92,396.75 L186.41,396.66 L187.91,396.58 L189.40,396.50 L190.90,396.41 L192.39,396.33 L193.89,396.24 L195.39,396.16 L196.88,396.08 L198.38,395.99 L199.87,395.91 L201.37,395.82 L202.86,395.74 L204.36,395.66 L205.85,395.57 L207.35,395.49 L208.84,395.40 L210.34,395.32 L211.83,395.24 L213.32,395.15 L214.82,395.07 L216.31,394.98 L217.81,394.90 L219.30,394.82 L220.80,394.73 L222.29,394.65 L223.79,394.56 L225.28,394.48 L226.78,394.40 L228.27,394.31 L229.76,394.23 L231.26,394.15 L232.75,394.06 L234.25,393.98 L235.74,393.89 L237.23,393.81 L238.73,393.73 L240.22,393.64 L241.72,393.56 L243.21,393.47 L244.70,393.39 L246.20,393.31 L247.69,393.22 L249.19,393.14 L250.68,393.05 L252.17,392.97 L253.67,392.89 L255.16,392.80 L256.65,392.72 L258.15,392.63 L259.64,392.55 L261.14,392.46 L262.63,392.38 L264.12,392.30 L265.62,392.21 L267.11,392.13 L268.60,392.04 L270.10,391.96 L271.59,391.87 L273.08,391.79 L274.58,391.70 L276.07,391.62 L277.56,391.53 L279.06,391.45 L280.55,391.36 L282.04,391.28 L283.54,391.19 L285.03,391.11 L286.52,391.02 L288.02,390.94 L289.51,390.85 L291.00,390.77 L292.50,390.68 L293.99,390.60 L295.48,390.51 L296.98,390.43 L298.47,390.34 L299.96,390.26 L301.46,390.17 L302.95,390.08 L304.44,390.00 L305.94,389.91 L307.43,389.83 L308.92,389.74 L310.42,389.65 L311.91,389.57 L313.40,389.48 L314.90,389.40 L316.39,389.31 L317.88,389.22 L319.38,389.14 L320.87,389.05 L322.36,388.96 L323.86,388.87 L325.35,388.79 L326.84,388.70 L328.34,388.61 L329.83,388.53 L331.32,388.44 L332.82,388.35 L334.31,388.26 L335.80,388.18 L337.30,388.09 L338.79,388.00 L340.28,387.91 L341.78,387.82 L343.27,387.74 L344.76,387.65 L346.26,387.56 L347.75,387.47 L349.24,387.38 L350.74,387.29 L352.23,387.20 L353.72,387.12 L355.22,387.03 L356.71,386.94 L358.21,386.85 L359.70,386.76 L361.19,386.67 L362.69,386.58 L364.18,386.49 L365.67,386.40 L367.17,386.31 L368.66,386.22 L370.16,386.13 L371.65,386.04 L373.14,385.95 L374.64,385.86 L376.13,385.77 L377.63,385.67 L379.12,385.58 L380.61,385.49 L382.11,385.40 L383.60,385.31 L385.10,385.22 L386.59,385.13 L388.08,385.03 L389.58,384.94 L391.07,384.85 L392.57,384.76 L394.06,384.66 L395.56,384.57 L397.05,384.48 L398.54,384.39 L400.04,384.29 L401.53,384.20 L403.03,384.11 L404.52,384.01 L406.02,383.92 L407.51,383.82 L409.01,383.73 L410.50,383.64 L412.00,383.54 L413.49,383.45 L414.99,383.35 L416.48,383.26 L417.98,383.16 L419.47,383.07 L420.97,382.97 L422.46,382.87 L423.96,382.78 L425.45,382.68 L426.95,382.59 L428.45,382.49 L429.94,382.39 L431.44,382.30 L432.93,382.20 L434.43,382.10 L435.92,382.00 L437.42,381.91 L438.92,381.81 L440.41,381.71 L441.91,381.61 L443.40,381.51 L444.90,381.42 L446.40,381.32 L447.89,381.22 L449.39,381.12 L450.89,381.02 L452.38,380.92 L453.88,380.82 L455.38,380.72 L456.87,380.62 L458.37,380.52 L459.87,380.42 L461.36,380.32 L462.86,380.22 L464.36,380.12 L465.85,380.02 L467.35,379.91 L468.85,379.81 L470.35,379.71 L471.84,379.61 L473.34,379.51 L474.84,379.40 L476.34,379.30 L477.83,379.20 L479.33,379.09 L480.83,378.99 L482.33,378.89 L483.83,378.78 L485.32,378.68 L486.82,378.57 L488.32,378.47 L489.82,378.36 L491.32,378.26 L492.82,378.15 L494.32,378.05 L495.81,377.94 L497.31,377.83 L498.81,377.73 L500.31,377.62 L501.81,377.51 L503.31,377.41 L504.81,377.30 L506.31,377.19 L507.81,377.08 L509.31,376.97 L510.81,376.86 L512.31,376.75 L513.80,376.64 L515.30,376.53 L516.80,376.41 L518.30,376.29 L519.79,376.17 L521.29,376.04 L522.79,375.91 L524.28,375.78 L525.77,375.64 L527.26,375.49 L528.75,375.35 L530.24,375.19 L531.73,375.03 L533.21,374.87 L534.70,374.70 L536.18,374.52 L537.66,374.33 L539.14,374.14 L540.61,373.94 L542.09,373.73 L543.56,373.51 L545.03,373.29 L546.49,373.05 L547.96,372.81 L549.42,372.55 L550.88,372.29 L552.33,372.02 L553.79,371.73 L555.23,371.43 L556.68,371.13 L558.12,370.81 L559.56,370.48 L561.00,370.13 L562.43,369.77 L563.86,369.40 L565.28,369.02 L566.70,368.62 L568.12,368.21 L569.53,367.79 L570.94,367.34 L572.35,366.89 L573.75,366.42 L575.14,365.93 L576.53,365.43 L577.92,364.91 L579.30,364.37 L580.68,363.82 L582.05,363.25 L583.41,362.66 L584.78,362.05 L586.13,361.42 L587.48,360.78 L588.83,360.12 L590.17,359.44 L591.50,358.75 L592.84,358.04 L594.16,357.32 L595.49,356.59 L596.81,355.84 L598.12,355.09 L599.43,354.32 L600.74,353.54 L602.05,352.76 L603.35,351.96 L604.65,351.16 L605.94,350.36 L607.23,349.54 L608.53,348.73 L609.81,347.91 L611.10,347.08 L612.38,346.26 L613.67,345.43 L614.95,344.60 L616.23,343.78 L617.51,342.95 L618.78,342.13 L620.06,341.31 L621.33,340.49 L622.61,339.68 L623.88,338.87 L625.16,338.07 L626.43,337.27 L627.70,336.49 L628.98,335.71 L630.25,334.93 L631.53,334.17 L632.80,333.41 L634.07,332.65 L635.35,331.90 L636.63,331.16 L637.90,330.42 L639.18,329.68 L640.46,328.95 L641.74,328.22 L643.02,327.50 L644.30,326.77 L645.58,326.05 L646.86,325.33 L648.14,324.61 L649.43,323.90 L650.72,323.18 L652.00,322.46 L653.29,321.75 L654.58,321.03 L655.88,320.31 L657.17,319.59 L658.47,318.87 L659.76,318.15 L661.06,317.42 L662.36,316.69 L663.67,315.96 L664.97,315.23 L666.28,314.49 L667.59,313.75 L668.90,313.00 L670.21,312.25 L671.51,311.49 L672.82,310.73 L674.13,309.96 L675.44,309.19 L676.74,308.42 L678.04,307.63 L679.34,306.84 L680.64,306.05 L681.94,305.25 L683.23,304.44 L684.51,303.63 L685.79,302.80 L687.07,301.97 L688.34,301.14 L689.60,300.29 L690.86,299.44 L692.11,298.58 L693.36,297.72 L694.59,296.84 L695.82,295.95 L697.04,295.06 L698.25,294.16 L699.46,293.24 L700.65,292.32 L701.83,291.39 L703.00,290.45 L704.16,289.50 L705.31,288.54 L706.45,287.56 L707.58,286.58 L708.69,285.58 L709.79,284.58 L710.87,283.56 L711.95,282.53 L713.00,281.49 L714.05,280.44 L715.08,279.37 L716.09,278.30 L717.09,277.21 L718.07,276.10 L719.03,274.99 L719.97,273.86 L720.90,272.71 L721.82,271.56 L722.71,270.39 L723.59,269.21 L724.45,268.01 L725.30,266.81 L726.13,265.59 L726.95,264.36 L727.75,263.13 L728.53,261.88 L729.31,260.62 L730.07,259.35 L730.81,258.07 L731.55,256.78 L732.27,255.48 L732.98,254.17 L733.67,252.86 L734.36,251.53 L735.03,250.20 L735.69,248.87 L736.35,247.52 L736.99,246.17 L737.62,244.81 L738.24,243.44 L738.86,242.07 L739.46,240.69 L740.06,239.31 L740.65,237.92 L741.23,236.53 L741.80,235.14 L742.37,233.74 L742.92,232.33 L743.48,230.92 L744.02,229.51 L744.57,228.10 L745.10,226.68 L745.63,225.26 L746.16,223.84 L746.68,222.42 L747.20,221.00 L747.71,219.57 L748.22,218.15 L748.73,216.72 L749.23,215.30 L749.74,213.87 L750.24,212.45 L750.74,211.02 L751.23,209.60 L751.73,208.17 L752.22,206.75 L752.71,205.33 L753.19,203.90 L753.68,202.48 L754.16,201.06 L754.63,199.63 L755.11,198.21 L755.58,196.78 L756.05,195.36 L756.52,193.94 L756.98,192.51 L757.44,191.09 L757.90,189.66 L758.35,188.24 L758.80,186.81 L759.25,185.38 L759.69,183.96 L760.13,182.53 L760.57,181.10 L761.01,179.67 L761.43,178.25 L761.86,176.82 L762.28,175.39 L762.70,173.95 L763.12,172.52 L763.53,171.09 L763.93,169.66 L764.33,168.22 L764.73,166.79 L765.13,165.35 L765.52,163.91 L765.90,162.47 L766.28,161.03 L766.66,159.59 L767.03,158.15 L767.40,156.71 L767.76,155.26 L768.12,153.82 L768.47,152.37 L768.82,150.92 L769.17,149.47 L769.51,148.02 L769.84,146.56 L770.17,145.11 L770.49,143.65 L770.81,142.20 L771.12,140.74 L771.43,139.27 L771.74,137.81 L772.03,136.35 L772.32,134.88 L772.61,133.41 L772.89,131.94 L773.17,130.47 L773.44,128.99 L773.70,127.52 L773.96,126.04 L774.21,124.56 L774.46,123.08 L774.70,121.59 L774.94,120.11 L775.17,118.62 L775.40,117.13 L775.63,115.64 L775.85,114.15 L776.07,112.66 L776.28,111.17 L776.50,109.68 L776.71,108.19 L776.92,106.70 L777.13,105.21 L777.33,103.72 L777.54,102.23 L777.74,100.74 L777.95,99.25 L778.15,97.76 L778.36,96.27 L778.56,94.79 L778.77,93.30 L778.98,91.82 L779.19,90.34 L779.40,88.86 L779.62,87.39 L779.85,85.91 L780.09,84.45 L780.35,82.98 L780.62,81.52 L780.92,80.07 L781.23,78.63 L781.57,77.19 L781.93,75.76 L782.32,74.33 L782.74,72.92 L783.20,71.51 L783.69,70.12 L784.22,68.73 L784.78,67.36 L785.40,66.00" stroke="#1b6ea0"/>
<path d="M785.40,66.00 L785.37,67.50 L785.33,69.00 L785.26,70.50 L785.19,71.99 L785.09,73.49 L784.98,74.98 L784.86,76.47 L784.72,77.96 L784.57,79.45 L784.40,80.93 L784.23,82.42 L784.04,83.90 L783.84,85.38 L783.62,86.87 L783.40,88.35 L783.17,89.82 L782.93,91.30 L782.69,92.78 L782.43,94.25 L782.17,95.73 L781.90,97.20 L781.62,98.68 L781.34,100.15 L781.05,101.62 L780.76,103.10 L780.47,104.57 L780.17,106.04 L779.87,107.51 L779.56,108.98 L779.26,110.45 L778.95,111.92 L778.64,113.39 L778.34,114.86 L778.03,116.33 L777.72,117.80 L777.42,119.27 L777.12,120.74 L776.82,122.21 L776.53,123.68 L776.24,125.15 L775.95,126.62 L775.67,128.10 L775.39,129.57 L775.12,131.04 L774.85,132.52 L774.59,133.99 L774.34,135.47 L774.08,136.94 L773.84,138.42 L773.59,139.89 L773.35,141.37 L773.12,142.85 L772.89,144.32 L772.66,145.80 L772.43,147.28 L772.21,148.76 L771.99,150.24 L771.78,151.72 L771.56,153.20 L771.35,154.68 L771.14,156.16 L770.94,157.64 L770.73,159.12 L770.53,160.61 L770.33,162.09 L770.13,163.57 L769.93,165.05 L769.74,166.54 L769.54,168.02 L769.35,169.51 L769.15,170.99 L768.96,172.47 L768.76,173.96 L768.57,175.44 L768.38,176.93 L768.18,178.41 L767.99,179.90 L767.79,181.39 L767.60,182.87 L767.40,184.36 L767.21,185.84 L767.01,187.33 L766.81,188.82 L766.61,190.30 L766.41,191.79 L766.20,193.28 L766.00,194.76 L765.79,196.25 L765.58,197.74 L765.37,199.22 L765.16,200.71 L764.95,202.19 L764.73,203.68 L764.52,205.17 L764.30,206.65 L764.08,208.13 L763.85,209.62 L763.63,211.10 L763.40,212.59 L763.16,214.07 L762.93,215.55 L762.69,217.04 L762.45,218.52 L762.21,220.00 L761.96,221.48 L761.72,222.96 L761.46,224.44 L761.21,225.92 L760.95,227.39 L760.69,228.87 L760.42,230.35 L760.15,231.82 L759.88,233.30 L759.60,234.77 L759.32,236.25 L759.04,237.72 L758.75,239.19 L758.45,240.66 L758.16,242.13 L757.85,243.60 L757.55,245.06 L757.24,246.53 L756.92,247.99 L756.60,249.46 L756.28,250.92 L755.95,252.38 L755.61,253.84 L755.27,255.30 L754.93,256.76 L754.58,258.21 L754.23,259.67 L753.87,261.12 L753.50,262.57 L753.13,264.02 L752.75,265.47 L752.37,266.92 L751.98,268.36 L751.59,269.81 L751.19,271.25 L750.78,272.69 L750.37,274.13 L749.95,275.56 L749.52,277.00 L749.09,278.43 L748.65,279.86 L748.21,281.29 L747.76,282.72 L747.30,284.15 L746.83,285.57 L746.36,286.99 L745.88,288.42 L745.40,289.83 L744.90,291.25 L744.40,292.66 L743.90,294.07 L743.38,295.48 L742.86,296.89 L742.33,298.30 L741.79,299.70 L741.24,301.10 L740.69,302.50 L740.13,303.90 L739.56,305.29 L738.98,306.68 L738.39,308.07 L737.80,309.45 L737.19,310.83 L736.58,312.21 L735.95,313.58 L735.32,314.94 L734.67,316.30 L734.01,317.66 L733.34,319.00 L732.66,320.34 L731.97,321.67 L731.26,322.99 L730.54,324.31 L729.81,325.61 L729.06,326.90 L728.30,328.19 L727.52,329.46 L726.73,330.72 L725.93,331.98 L725.10,333.21 L724.27,334.44 L723.41,335.65 L722.54,336.85 L721.65,338.04 L720.74,339.21 L719.82,340.36 L718.87,341.50 L717.91,342.63 L716.93,343.73 L715.93,344.83 L714.91,345.90 L713.87,346.96 L712.81,347.99 L711.73,349.01 L710.63,350.01 L709.51,351.00 L708.37,351.96 L707.21,352.91 L706.04,353.84 L704.85,354.75 L703.65,355.65 L702.43,356.52 L701.19,357.39 L699.94,358.23 L698.68,359.06 L697.40,359.87 L696.12,360.66 L694.82,361.44 L693.51,362.21 L692.19,362.95 L690.86,363.68 L689.52,364.40 L688.18,365.10 L686.82,365.78 L685.46,366.45 L684.09,367.11 L682.72,367.75 L681.34,368.37 L679.96,368.98 L678.57,369.58 L677.18,370.16 L675.78,370.73 L674.38,371.28 L672.98,371.82 L671.57,372.35 L670.17,372.87 L668.75,373.37 L667.34,373.85 L665.92,374.33 L664.49,374.79 L663.07,375.25 L661.64,375.69 L660.21,376.11 L658.77,376.53 L657.34,376.94 L655.90,377.33 L654.45,377.72 L653.01,378.09 L651.56,378.45 L650.11,378.81 L648.66,379.15 L647.20,379.48 L645.74,379.81 L644.28,380.12 L642.82,380.43 L641.36,380.72 L639.89,381.01 L638.42,381.29 L636.95,381.56 L635.48,381.83 L634.01,382.08 L632.53,382.33 L631.06,382.57 L629.58,382.81 L628.10,383.03 L626.62,383.25 L625.14,383.47 L623.65,383.67 L622.17,383.88 L620.69,384.07 L619.20,384.26 L617.71,384.45 L616.22,384.63 L614.73,384.80 L613.24,384.97 L611.75,385.14 L610.26,385.30 L608.77,385.46 L607.28,385.61 L605.79,385.76 L604.30,385.90 L602.80,386.05 L601.31,386.19 L599.82,386.32 L598.32,386.46 L596.83,386.59 L595.34,386.72 L593.84,386.85 L592.35,386.97 L590.86,387.09 L589.37,387.21 L587.87,387.33 L586.38,387.44 L584.89,387.56 L583.39,387.67 L581.90,387.78 L580.41,387.88 L578.91,387.98 L577.42,388.09 L575.93,388.19 L574.43,388.28 L572.94,388.38 L571.44,388.47 L569.95,388.57 L568.46,388.66 L566.96,388.74 L565.47,388.83 L563.97,388.91 L562.48,389.00 L560.99,389.08 L559.49,389.16 L558.00,389.24 L556.50,389.31 L555.01,389.39 L553.51,389.46 L552.02,389.53 L550.52,389.60 L549.03,389.67 L547.53,389.74 L546.04,389.81 L544.54,389.87 L543.05,389.93 L541.55,390.00 L540.06,390.06 L538.56,390.12 L537.07,390.18 L535.57,390.24 L534.07,390.29 L532.58,390.35 L531.08,390.40 L529.59,390.46 L528.09,390.51 L526.59,390.56 L525.10,390.62 L523.60,390.67 L522.10,390.72 L520.60,390.77 L519.11,390.82 L517.61,390.86 L516.11,390.91 L514.62,390.96 L513.12,391.00 L511.62,391.05 L510.12,391.10 L508.62,391.14 L507.12,391.19 L505.63,391.23 L504.13,391.28 L502.63,391.32 L501.13,391.36 L499.63,391.41 L498.13,391.45 L496.63,391.49 L495.13,391.54 L493.63,391.58 L492.13,391.62 L490.63,391.67 L489.13,391.71 L487.63,391.75 L486.13,391.80 L484.63,391.84 L483.13,391.89 L481.62,391.93 L480.12,391.98 L478.62,392.02 L477.12,392.07 L475.62,392.11 L474.11,392.16 L472.61,392.20 L471.11,392.25 L469.60,392.30 L468.10,392.35 L466.60,392.40 L465.09,392.45 L463.59,392.50 L462.09,392.55 L460.58,392.60 L459.08,392.65 L457.57,392.71 L456.07,392.76 L454.56,392.82 L453.06,392.88 L451.55,392.95 L450.05,393.02 L448.55,393.09 L447.04,393.17 L445.54,393.25 L444.04,393.34 L442.54,393.44 L441.05,393.55 L439.55,393.66 L438.06,393.78 L436.56,393.91 L435.07,394.05 L433.59,394.21 L432.10,394.37 L430.61,394.54 L429.13,394.73 L427.65,394.93 L426.18,395.14 L424.70,395.37 L423.23,395.61 L421.77,395.87 L420.30,396.14 L418.84,396.43 L417.38,396.74 L415.93,397.06 L414.48,397.40 L413.04,397.76 L411.59,398.14 L410.16,398.54 L408.72,398.96 L407.30,399.40 L405.87,399.87 L404.45,400.35 L403.04,400.86 L401.63,401.39 L400.24,401.96 L398.87,402.57 L397.53,403.22 L396.22,403.91 L394.94,404.67 L393.71,405.48 L392.53,406.36 L391.40,407.32 L390.34,408.35 L389.34,409.46 L388.40,410.66 L387.53,411.93 L386.71,413.26 L385.94,414.64 L385.20,416.04 L384.49,417.45 L383.79,418.87 L383.10,420.27 L382.42,421.66 L381.75,423.04 L381.08,424.41 L380.42,425.77 L379.77,427.12 L379.12,428.46 L378.48,429.79 L377.83,431.12 L377.20,432.44 L376.56,433.76 L375.92,435.08 L375.29,436.39 L374.66,437.71 L374.02,439.02 L373.39,440.33 L372.75,441.65 L372.11,442.96 L371.47,444.28 L370.83,445.61 L370.18,446.94 L369.52,448.28 L368.86,449.62 L368.19,450.98 L367.52,452.34 L366.84,453.72 L366.15,455.10 L365.45,456.50 L364.73,457.88 L363.96,459.24 L363.11,460.53 L362.18,461.74 L361.13,462.85 L359.95,463.81 L358.64,464.61 L357.25,465.13 L355.85,465.26 L354.53,464.91 L353.29,464.14 L352.14,463.13 L351.07,462.03 L350.08,460.89 L349.15,459.72 L348.29,458.51 L347.48,457.27 L346.73,456.00 L346.02,454.71 L345.36,453.39 L344.73,452.05 L344.13,450.68 L343.56,449.30 L343.00,447.90 L342.46,446.49 L341.93,445.06 L341.40,443.63 L340.87,442.19 L340.33,440.74 L339.78,439.28 L339.21,437.83 L338.63,436.38 L338.02,434.93 L337.39,433.50 L336.74,432.07 L336.07,430.66 L335.37,429.27 L334.64,427.90 L333.88,426.56 L333.09,425.24 L332.27,423.96 L331.42,422.71 L330.53,421.50 L329.60,420.33 L328.64,419.21 L327.64,418.13 L326.60,417.09 L325.53,416.10 L324.43,415.14 L323.30,414.22 L322.14,413.34 L320.95,412.50 L319.74,411.69 L318.50,410.91 L317.24,410.16 L315.95,409.45 L314.65,408.76 L313.33,408.10 L311.99,407.47 L310.64,406.86 L309.27,406.28 L307.89,405.71 L306.50,405.17 L305.11,404.65 L303.70,404.15 L302.29,403.66 L300.87,403.19 L299.45,402.74 L298.03,402.30 L296.60,401.87 L295.17,401.46 L293.74,401.06 L292.30,400.67 L290.86,400.30 L289.42,399.94 L287.98,399.59 L286.53,399.26 L285.08,398.94 L283.63,398.63 L282.17,398.34 L280.71,398.06 L279.25,397.78 L277.79,397.52 L276.32,397.28 L274.86,397.04 L273.39,396.81 L271.91,396.60 L270.44,396.40 L268.96,396.20 L267.48,396.02 L266.00,395.85 L264.52,395.69 L263.03,395.53 L261.55,395.39 L260.06,395.26 L258.57,395.13 L257.08,395.02 L255.59,394.91 L254.09,394.82 L252.59,394.73 L251.10,394.65 L249.60,394.58 L248.10,394.51 L246.60,394.46 L245.09,394.41 L243.59,394.37 L242.08,394.34 L240.58,394.31 L239.07,394.29 L237.56,394.28 L236.06,394.27 L234.55,394.27 L233.04,394.28 L231.52,394.29 L230.01,394.31 L228.50,394.34 L226.99,394.37 L225.47,394.40 L223.96,394.44 L222.45,394.48 L220.93,394.53 L219.42,394.59 L217.90,394.65 L216.39,394.71 L214.87,394.77 L213.36,394.84 L211.84,394.92 L210.33,394.99 L208.82,395.07 L207.30,395.16 L205.79,395.24 L204.27,395.33 L202.76,395.42 L201.25,395.52 L199.74,395.61 L198.22,395.71 L196.71,395.81 L195.20,395.91 L193.69,396.01 L192.19,396.11 L190.68,396.22 L189.17,396.32 L187.66,396.42 L186.16,396.53 L184.66,396.64 L183.15,396.74 L181.65,396.85 L180.15,396.95 L178.65,397.06 L177.16,397.16 L175.66,397.26 L174.16,397.37 L172.67,397.47 L171.18,397.57 L169.69,397.66 L168.20,397.76 L166.72,397.85 L165.23,397.94 L163.75,398.03 L162.27,398.12 L160.79,398.20 L159.31,398.28 L157.84,398.36 L156.37,398.44 L154.90,398.51 L153.43,398.57 L151.96,398.64 L150.50,398.70" stroke="#1b6ea0"/>
</g>
<g fill="none" stroke-width="2">
<path d="M890,40.1H942.8" stroke="#000" stroke-width="1.7"/>
<path d="M890,82H942.8" stroke="#d21018" stroke-width="1.8"/>
<path d="M890,124H942.8" stroke="#1b6ea0" stroke-width="1.8"/>
</g>
<text transform="translate(87.88,30.66) scale(0.915,1)" style="font-size:26.3px">6</text><text transform="translate(101.88,30.66) scale(0.891,1)" style="font-size:26.3px">0</text><text transform="translate(88.50,92.65) scale(0.850,1)" style="font-size:26.3px">5</text><text transform="translate(101.88,92.65) scale(0.891,1)" style="font-size:26.3px">0</text><text transform="translate(88.04,154.64) scale(0.936,1)" style="font-size:26.3px">4</text><text transform="translate(101.88,154.64) scale(0.891,1)" style="font-size:26.3px">0</text><text transform="translate(88.01,216.63) scale(0.890,1)" style="font-size:26.3px">3</text><text transform="translate(101.88,216.63) scale(0.891,1)" style="font-size:26.3px">0</text><text transform="translate(88.23,278.62) scale(0.885,1)" style="font-size:26.3px">2</text><text transform="translate(101.88,278.62) scale(0.891,1)" style="font-size:26.3px">0</text><path d="M94.40,322.71 L96.90,322.71 L96.90,340.61 L94.70,340.61 L94.70,325.81 L91.00,328.11 L90.10,326.51Z" fill="#000"/><text transform="translate(101.88,340.61) scale(0.891,1)" style="font-size:26.3px">0</text><text transform="translate(101.88,403.70) scale(0.891,1)" style="font-size:26.3px">0</text><text transform="translate(80.06,465.69) scale(0.888,1)" style="font-size:26.3px">-</text><path d="M94.40,447.79 L96.90,447.79 L96.90,465.69 L94.70,465.69 L94.70,450.89 L91.00,453.19 L90.10,451.59Z" fill="#000"/><text transform="translate(101.88,465.69) scale(0.891,1)" style="font-size:26.3px">0</text>
<text transform="translate(129.87,544.60) scale(0.907,1)" style="font-size:26.3px">0</text><path d="M146.20,541.80 L147.90,541.80 L146.10,547.70 L144.60,547.70Z" fill="#000"/><text transform="translate(150.07,544.60) scale(0.907,1)" style="font-size:26.3px">0</text><text transform="translate(228.67,544.60) scale(0.907,1)" style="font-size:26.3px">0</text><path d="M245.00,541.80 L246.70,541.80 L244.90,547.70 L243.40,547.70Z" fill="#000"/><text transform="translate(248.87,544.60) scale(0.926,1)" style="font-size:26.3px">2</text><text transform="translate(327.47,544.60) scale(0.907,1)" style="font-size:26.3px">0</text><path d="M343.80,541.80 L345.50,541.80 L343.70,547.70 L342.20,547.70Z" fill="#000"/><text transform="translate(347.53,544.60) scale(0.943,1)" style="font-size:26.3px">4</text><text transform="translate(426.27,544.60) scale(0.907,1)" style="font-size:26.3px">0</text><path d="M442.60,541.80 L444.30,541.80 L442.50,547.70 L441.00,547.70Z" fill="#000"/><text transform="translate(446.27,544.60) scale(0.923,1)" style="font-size:26.3px">6</text><text transform="translate(525.07,544.60) scale(0.907,1)" style="font-size:26.3px">0</text><path d="M541.40,541.80 L543.10,541.80 L541.30,547.70 L539.80,547.70Z" fill="#000"/><text transform="translate(545.26,544.60) scale(0.908,1)" style="font-size:26.3px">8</text><path d="M629.60,526.70 L632.10,526.70 L632.10,544.60 L629.90,544.60 L629.90,529.80 L626.20,532.10 L625.30,530.50Z" fill="#000"/><path d="M640.20,541.80 L641.90,541.80 L640.10,547.70 L638.60,547.70Z" fill="#000"/><text transform="translate(644.07,544.60) scale(0.907,1)" style="font-size:26.3px">0</text><path d="M728.40,526.70 L730.90,526.70 L730.90,544.60 L728.70,544.60 L728.70,529.80 L725.00,532.10 L724.10,530.50Z" fill="#000"/><path d="M739.00,541.80 L740.70,541.80 L738.90,547.70 L737.40,547.70Z" fill="#000"/><text transform="translate(742.87,544.60) scale(0.926,1)" style="font-size:26.3px">2</text>
<text transform="translate(412.82,619.70) scale(0.695,1)" style="font-size:26.0px">E</text><text transform="translate(431.82,619.70) scale(0.905,1)" style="font-size:26.0px">v</text><text transform="translate(444.72,619.70) scale(0.803,1)" style="font-size:26.0px">s</text><text transform="translate(462.62,619.70) scale(0.646,1)" style="font-size:26.0px">E</text><text transform="translate(475.45,619.70) scale(0.916,1)" style="font-size:26.0px">N</text><text transform="translate(494.11,619.70) scale(0.888,1)" style="font-size:26.0px">H</text>
<g transform="translate(31.00,0) rotate(-90)"><text transform="translate(-348.36,0) scale(1.193,1)" style="font-size:25.6px">t</text><text transform="translate(-340.02,0) scale(0.953,1)" style="font-size:25.6px">r</text><text transform="translate(-330.13,0) scale(0.760,1)" style="font-size:25.6px">a</text><text transform="translate(-316.53,0) scale(0.956,1)" style="font-size:25.6px">n</text><text transform="translate(-301.84,0) scale(0.896,1)" style="font-size:25.6px">s</text><text transform="translate(-290.56,0) scale(1.037,1)" style="font-size:25.6px">m</text><text transform="translate(-267.47,0) scale(0.978,1)" style="font-size:25.6px">i</text><text transform="translate(-261.06,0) scale(1.193,1)" style="font-size:25.6px">t</text><text transform="translate(-251.44,0) scale(0.768,1)" style="font-size:25.6px">a</text><text transform="translate(-238.80,0) scale(1.002,1)" style="font-size:25.6px">n</text><text transform="translate(-223.71,0) scale(0.834,1)" style="font-size:25.6px">c</text><text transform="translate(-212.98,0) scale(1.156,1)" style="font-size:25.6px">i</text><text transform="translate(-205.34,0) scale(0.768,1)" style="font-size:25.6px">a</text><text transform="translate(-185.30,0) scale(1.153,1)" style="font-size:25.6px">/</text><text transform="translate(-170.48,0) scale(0.850,1)" style="font-size:25.6px">%</text></g>
<text transform="translate(956.16,40.80) scale(0.847,1)" style="font-size:26.9px">A</text><text transform="translate(969.29,40.80) scale(0.842,1)" style="font-size:26.9px">T</text><text transform="translate(955.99,82.90) scale(0.956,1)" style="font-size:26.9px">M</text><text transform="translate(978.24,82.90) scale(0.942,1)" style="font-size:26.9px">g</text><text transform="translate(992.86,82.90) scale(0.841,1)" style="font-size:26.9px">A</text><text transform="translate(1006.30,82.90) scale(0.822,1)" style="font-size:26.9px">T</text><text transform="translate(956.27,124.90) scale(0.757,1)" style="font-size:26.9px">C</text><text transform="translate(970.73,124.90) scale(1.100,1)" style="font-size:26.9px">r</text><text transform="translate(981.16,124.90) scale(0.841,1)" style="font-size:26.9px">A</text><text transform="translate(994.59,124.90) scale(0.842,1)" style="font-size:26.9px">T</text>
</svg>
</body></html>
